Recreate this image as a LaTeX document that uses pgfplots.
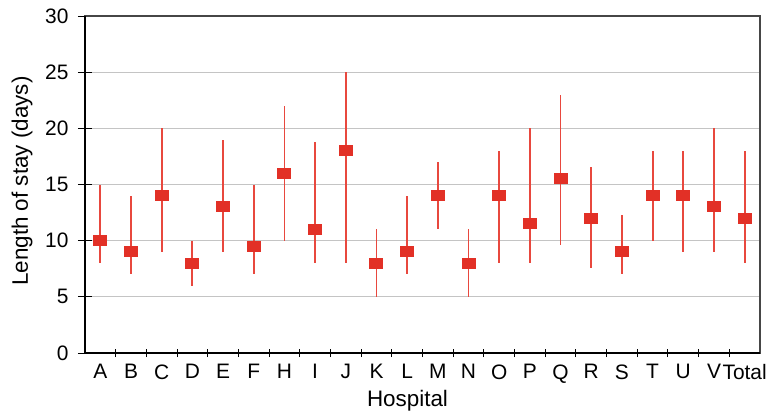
\documentclass[border=0pt]{standalone}
\usepackage{fontspec}
\setmainfont{Liberation Sans}
\usepackage{pgfplots}
\usepackage{pgfplotstable}
\pgfplotsset{compat=1.18}
\definecolor{mk}{RGB}{226,48,38}
\definecolor{ln}{RGB}{232,72,62}
\definecolor{gr}{RGB}{196,196,196}
\definecolor{bx}{RGB}{70,70,70}
\pgfplotstableread{
x m lo hi
0 10 8 15
1 9 7 14
2 14 9 20
3 8 6 10
4 13 9 19
5 9.5 7 15
6 16 10 22
7 11 8 18.8
8 18 8 25
9 8 5 11
10 9 7 14
11 14 11 17
12 8 5 11
13 14 8 18
14 11.5 8 20
15 15.5 9.6 23
16 12 7.6 16.6
17 9 7 12.3
18 14 10 18
19 14 9 18
20 13 9 20
21 12 8 18
}\data
\begin{document}
\begin{tikzpicture}
\useasboundingbox (-85bp,-61bp) rectangle (689bp,353bp);
\begin{axis}[
  scale only axis, width=675bp, height=337bp,
  xmin=-0.5, xmax=21.5, ymin=0, ymax=30,
  xtick={0,...,21},
  xticklabels={A,B,C,D,E,F,H,I,J,K,L,M,N,O,P,Q,R,S,T,U,V,Total},
  minor xtick={0.5,1.5,...,20.5},
  ytick={0,5,...,30},
  xtick pos=bottom, ytick pos=left,
  tick align=center,
  major x tick style={draw=none},
  minor tick length=8bp,
  major tick length=14bp,
  tick style={black, line width=1bp},
  ymajorgrids,
  major grid style={gr, line width=1.2bp},
  axis line style={bx, line width=1.5bp},
  /pgf/number format/assume math mode=true,
  ticklabel style={font=\fontsize{21}{22}\selectfont},
  xticklabel style={yshift=-1bp},
  yticklabel style={xshift=-6bp},
  ylabel={Length of stay (days)},
  xlabel={Hospital},
  label style={font=\fontsize{22.5}{24}\selectfont},
  ylabel style={at={(axis description cs:-0.0933,0.51)}, anchor=center},
  xlabel style={at={(axis description cs:0.5,0)}, anchor=center, xshift=-15bp, yshift=-48bp},
  clip=false,
]
\addplot[only marks, mark=square*, mark size=5bp, mark options={xscale=1.3, fill=mk, draw=mk, line width=0pt},
  error bars/.cd, y dir=both, y explicit, error mark=none,
  error bar style={ln, line width=1.8bp}]
  table[x=x, y=m, y error plus expr=\thisrow{hi}-\thisrow{m}, y error minus expr=\thisrow{m}-\thisrow{lo}] {\data};
\draw[black, line width=2bp] (rel axis cs:0,1) -- (rel axis cs:0,0) -- (rel axis cs:1,0);
\end{axis}
\end{tikzpicture}
\end{document}
